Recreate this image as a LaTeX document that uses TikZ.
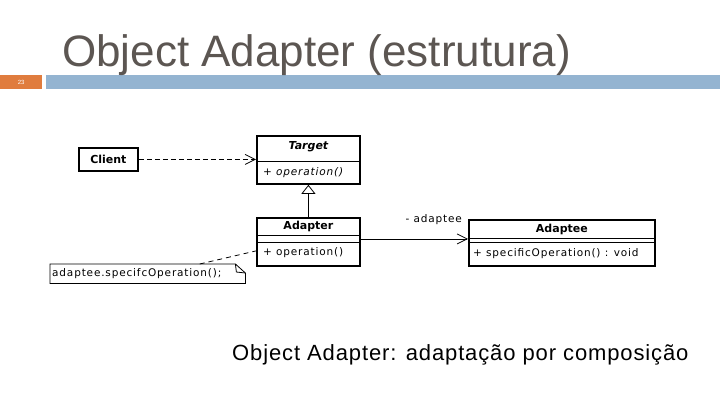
\documentclass[tikz,border=0pt]{standalone}
\usepackage{fontspec}
\setmainfont{Liberation Sans}
\newfontfamily\umlfont{DejaVu Sans}
\newfontfamily\umlsp[LetterSpace=8]{DejaVu Sans}
\newfontfamily\capfont[LetterSpace=4]{Liberation Sans}
\usetikzlibrary{arrows.meta,calc}
\definecolor{titlegray}{RGB}{92,86,82}
\definecolor{barorange}{RGB}{224,124,62}
\definecolor{barblue}{RGB}{148,180,209}
\begin{document}
\begin{tikzpicture}[x=1pt,y=-1pt,
  box/.style={draw, line width=1.8pt, inner sep=0pt, anchor=north west},
  sep/.style={line width=0.9pt},
  lbl/.style={inner sep=0pt, font=\umlsp\fontsize{10.5}{12}\selectfont},
  lbli/.style={inner sep=0pt, font=\umlsp\itshape\fontsize{10.5}{12}\selectfont},
  nm/.style={inner sep=0pt, font=\umlfont\bfseries\fontsize{11}{12}\selectfont},
  nmi/.style={inner sep=0pt, font=\umlfont\bfseries\itshape\fontsize{11}{12}\selectfont},
  conn/.style={line width=0.8pt},
  openarrow/.style={-{Straight Barb[length=10pt,width=10pt]}},
  ]
\useasboundingbox (0,0) rectangle (720,405);
% header
\node[fill=barorange, minimum width=42pt, minimum height=14pt, inner sep=0pt, anchor=north west] (pg) at (0,75) {};
\node[text=white, font=\fontsize{6}{7}\selectfont, inner sep=0pt] (pgnum) at (pg.center) {23};
\node[fill=barblue, minimum width=674pt, minimum height=14pt, inner sep=0pt, anchor=north west] (bar) at (46,75) {};
\node[anchor=base west, inner sep=0pt, text=titlegray, font=\fontsize{44}{50}\selectfont] (title) at (62,66) {Object Adapter (estrutura)};
% Client
\node[box, minimum width=59pt, minimum height=23pt] (client) at (78,147) {};
\node[nm] (clientn) at (client.center) {Client};
% Target
\node[box, minimum width=103pt, minimum height=48pt] (target) at (256,135) {};
\draw[sep] ($(target.north west)+(0,26)$) -- ($(target.north east)+(0,26)$);
\node[nmi] (targetn) at ($(target.north)+(0,12)$) {Target};
\node[lbli, anchor=west] (targetop) at ($(target.north west)+(7,38)$) {+ operation()};
% Adapter
\node[box, minimum width=103pt, minimum height=48pt] (adapter) at (256,217) {};
\draw[sep] ($(adapter.north west)+(0,18)$) -- ($(adapter.north east)+(0,18)$);
\draw[sep] ($(adapter.north west)+(0,25)$) -- ($(adapter.north east)+(0,25)$);
\node[nm] (adaptern) at ($(adapter.north)+(0,9)$) {Adapter};
\node[lbl, anchor=west] (adapterop) at ($(adapter.north west)+(7,36)$) {+ operation()};
% Adaptee
\node[box, minimum width=186pt, minimum height=46pt] (adaptee) at (468,219) {};
\draw[sep] ($(adaptee.north west)+(0,19)$) -- ($(adaptee.north east)+(0,19)$);
\draw[sep] ($(adaptee.north west)+(0,23.5)$) -- ($(adaptee.north east)+(0,23.5)$);
\node[nm] (adapteen) at ($(adaptee.north)+(0,10)$) {Adaptee};
\node[lbl, anchor=west] (adapteeop) at ($(adaptee.north west)+(5,35)$) {+ specificOperation() : void};
% Note
\node[anchor=north west, minimum width=195pt, minimum height=19pt, inner sep=0pt] (note) at (50,264) {};
\draw[line width=0.8pt] (note.north west) -- ($(note.north east)+(-10,0)$) -- ($(note.north east)+(0,9)$) -- (note.south east) -- (note.south west) -- cycle;
\draw[line width=0.8pt] ($(note.north east)+(-10,0)$) -- ($(note.north east)+(-9,8)$) -- ($(note.north east)+(0,9)$);
\node[lbl, anchor=west] (notet) at ($(note.west)+(2,0)$) {adaptee.specifcOperation();};
% connectors
\draw[conn, dash pattern=on 5pt off 3pt, openarrow] (client.east) -- (client.east -| target.west);
\draw[conn, -{Triangle[open, length=9pt, width=14pt]}] (adapter.north) -- (target.south);
\coordinate (a1) at ($(adapter.east)+(0,-3)$);
\draw[conn, openarrow] (a1) -- (a1 -| adaptee.west);
\node[lbl, anchor=base east] (role) at ($(adaptee.north west)+(-6,3)$) {- adaptee};
\draw[conn, dash pattern=on 5pt off 4pt] ($(note.north)+(52,0)$) -- ($(adapter.west)+(0,9)$);
% caption
\node[anchor=base west, inner sep=0pt, font=\capfont\fontsize{22}{26}\selectfont] (cap) at (232,360) {Object Adapter: adaptação por composição};
\end{tikzpicture}
\end{document}
